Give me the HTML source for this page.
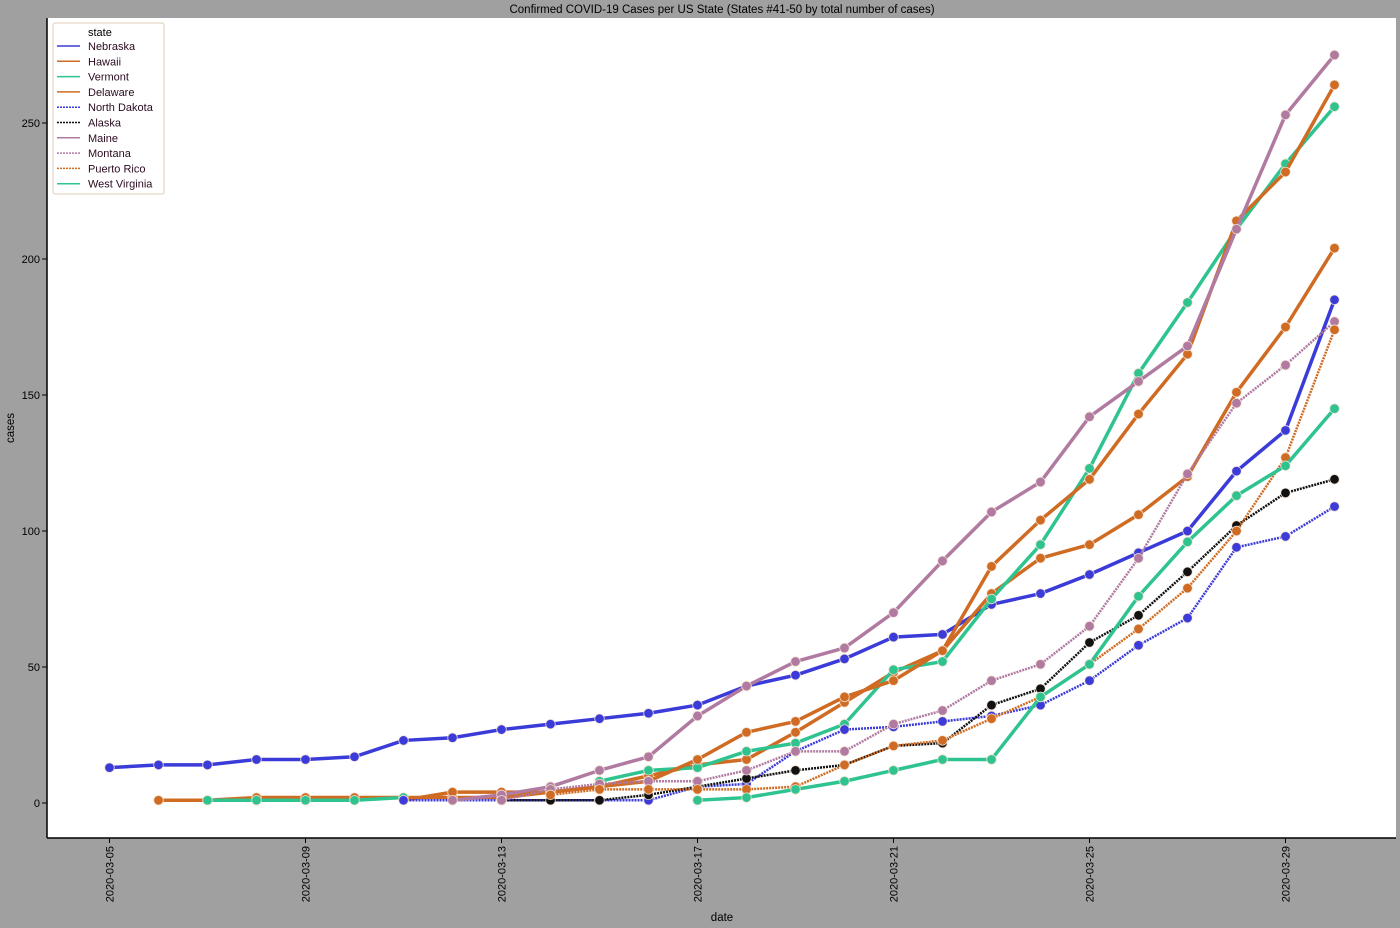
<!DOCTYPE html>
<html><head><meta charset="utf-8"><style>
body{margin:0;background:#a0a0a0;}
svg{display:block;font-family:"Liberation Sans","DejaVu Sans",sans-serif;}
</style></head><body>
<svg id="chart" width="1400" height="928" viewBox="0 0 1400 928">
<rect x="0" y="0" width="1400" height="928" fill="#a0a0a0"/>
<rect x="47" y="18" width="1349" height="820" fill="#ffffff"/>
<text x="722" y="13" text-anchor="middle" font-size="11.5" fill="#000">Confirmed COVID-19 Cases per US State (States #41-50 by total number of cases)</text>
<text x="722" y="921" text-anchor="middle" font-size="11.5" fill="#000">date</text>
<text transform="translate(14,428) rotate(-90)" text-anchor="middle" font-size="11.5" fill="#000">cases</text>
<g id="axes"></g>
<g id="series"></g>
<g id="legend"></g>
</svg>
<script>
const dates = ["2020-03-05","2020-03-06","2020-03-07","2020-03-08","2020-03-09","2020-03-10","2020-03-11","2020-03-12","2020-03-13","2020-03-14","2020-03-15","2020-03-16","2020-03-17","2020-03-18","2020-03-19","2020-03-20","2020-03-21","2020-03-22","2020-03-23","2020-03-24","2020-03-25","2020-03-26","2020-03-27","2020-03-28","2020-03-29","2020-03-30"];
const xTickLabels = ["2020-03-05","2020-03-09","2020-03-13","2020-03-17","2020-03-21","2020-03-25","2020-03-29"];
const yTicks = [0,50,100,150,200,250];
const stateNames = ["Nebraska","Hawaii","Vermont","Delaware","North Dakota","Alaska","Maine","Montana","Puerto Rico","West Virginia"];
const nebraska = [13,14,14,16,16,17,23,24,27,29,31,33,36,43,47,53,61,62,73,77,84,92,100,122,137,185];
const hawaii = [null,1,1,2,2,2,2,2,2,4,6,10,14,16,26,37,48,56,77,90,95,106,120,151,175,204];
const vermont = [null,null,1,1,1,1,2,null,null,null,8,12,13,19,22,29,49,52,75,95,123,158,184,211,235,256];
const delaware = [null,null,null,null,null,null,1,4,4,4,6,8,16,26,30,39,45,56,87,104,119,143,165,214,232,264];
const northDakota = [null,null,null,null,null,null,1,1,1,1,1,1,6,7,19,27,28,30,32,36,45,58,68,94,98,109];
const alaska = [null,null,null,null,null,null,null,null,1,1,1,3,6,9,12,14,21,22,36,42,59,69,85,102,114,119];
const maine = [null,null,null,null,null,null,null,1,3,6,12,17,32,43,52,57,70,89,107,118,142,155,168,211,253,275];
const montana = [null,null,null,null,null,null,null,null,1,5,7,8,8,12,19,19,29,34,45,51,65,90,121,147,161,177];
const puertoRico = [null,null,null,null,null,null,null,null,null,3,5,5,5,5,6,14,21,23,31,39,51,64,79,100,127,174];
const westVirginia = [null,null,null,null,null,null,null,null,null,null,null,null,1,2,5,8,12,16,16,39,51,76,96,113,124,145];
const seriesData = [nebraska,hawaii,vermont,delaware,northDakota,alaska,maine,montana,puertoRico,westVirginia];
const colors = ["#3b3bd9","#cf6b22","#2fc48f","#cf6b22","#3b3bd9","#111111","#b07aa1","#b07aa1","#cf6b22","#2fc48f"];
const dashed = [false,false,false,false,true,true,false,true,true,false];

const NS="http://www.w3.org/2000/svg";
const x0=109.5, dx=49.0, y0=803, sy=2.72;
function xPos(i){return x0+i*dx;}
function xDate(d){return xPos(dates.indexOf(d));}
function yPos(v){return y0-v*sy;}
function mk(tag,attrs,parent){const e=document.createElementNS(NS,tag);for(const k in attrs)e.setAttribute(k,attrs[k]);parent.appendChild(e);return e;}

const axes=document.getElementById('axes');
let a=mk('line',{x1:47,y1:18,x2:47,y2:838,stroke:'#000','stroke-width':1.5},axes);


a=mk('line',{x1:47,y1:838,x2:1396,y2:838,stroke:'#000','stroke-width':1.5},axes);


yTicks.forEach(v=>{
  const t=mk('line',{x1:42,y1:yPos(v),x2:47,y2:yPos(v),stroke:'#000','stroke-width':1},axes);
  
  
  const l=mk('text',{x:40,y:yPos(v)+4,'text-anchor':'end','font-size':11,fill:'#000'},axes);
  l.textContent=v;
  
  
});
xTickLabels.forEach(d=>{
  const x=xDate(d);
  const t=mk('line',{x1:x,y1:838,x2:x,y2:843,stroke:'#000','stroke-width':1},axes);
  
  
  const l=mk('text',{transform:`translate(${x+4},846) rotate(-90)`,'text-anchor':'end','font-size':11,fill:'#000'},axes);
  l.textContent=d;
  
  
});

const sg=document.getElementById('series');
seriesData.forEach((vals,si)=>{
  const g=mk('g',{},sg);
  
  
  let d='',pen=false;
  vals.forEach((v,i)=>{ if(v===null){pen=false;return;} d+=(pen?'L':'M')+xPos(i)+','+yPos(v)+' '; pen=true;});
  const p=mk('path',{d:d,fill:'none',stroke:colors[si],'stroke-width':dashed[si]?2.5:3.5,'stroke-linejoin':'round'},g);
  if(dashed[si]) p.setAttribute('stroke-dasharray','2,1');
  
  
  vals.forEach((v,i)=>{
    if(v===null)return;
    const c=mk('circle',{cx:xPos(i),cy:yPos(v),r:4.8,fill:colors[si],stroke:'#f2e0d0','stroke-width':0.8},g);
    
    
  });
});

const lg=document.getElementById('legend');
const box=mk('rect',{x:53,y:23,width:111,height:171,fill:'#fff',stroke:'#e0cdb8','stroke-width':1,rx:2},lg);


const lt=mk('text',{x:88,y:36,'font-size':11,fill:'#000'},lg);
lt.textContent='state';


stateNames.forEach((n,i)=>{
  const y=50+i*15.3;
  const ln=mk('line',{x1:57,y1:y-4,x2:80,y2:y-4,stroke:colors[i],'stroke-width':1.5},lg);
  if(dashed[i]) ln.setAttribute('stroke-dasharray','2,1');
  
  
  const t=mk('text',{x:88,y:y,'font-size':11,fill:'#2a0a20'},lg);
  t.textContent=n;
  
  
});
</script>
</body></html>
